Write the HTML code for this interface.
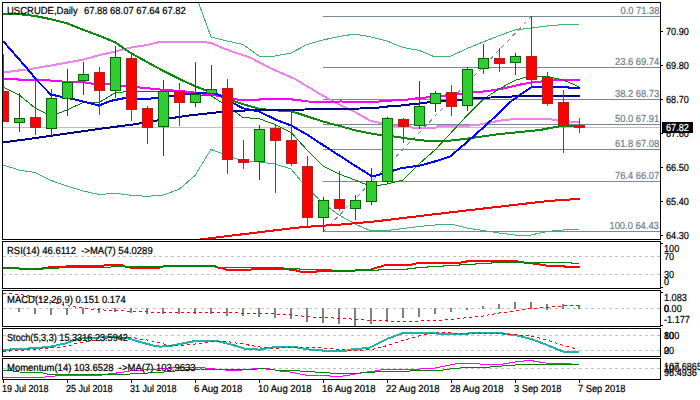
<!DOCTYPE html>
<html><head><meta charset="utf-8"><title>USCRUDE Daily</title>
<style>
html,body{margin:0;padding:0;background:#fff;}
body{width:700px;height:400px;position:relative;overflow:hidden;font-family:"Liberation Sans",sans-serif;}
.t{position:absolute;-webkit-text-stroke:0.22px currentColor;white-space:nowrap;line-height:1;font-size:10.2px;text-rendering:geometricPrecision;font-family:"Liberation Sans",sans-serif;height:auto;}
</style></head><body>
<svg width="700" height="400" viewBox="0 0 700 400" style="position:absolute;left:0;top:0" shape-rendering="crispEdges">
<defs><clipPath id="cm"><rect x="3" y="3" width="657" height="236"/></clipPath>
<clipPath id="c1"><rect x="3" y="242" width="657" height="46"/></clipPath>
<clipPath id="c2"><rect x="3" y="291" width="657" height="35"/></clipPath>
<clipPath id="c3"><rect x="3" y="329" width="657" height="27"/></clipPath>
<clipPath id="c4"><rect x="3" y="359" width="657" height="20"/></clipPath></defs>
<rect x="0" y="0" width="700" height="400" fill="#fff"/>
<g clip-path="url(#cm)">
<rect x="3" y="127" width="657" height="1" fill="#c0c0c0"/>
<rect x="323" y="16" width="337" height="1" fill="#778899"/>
<rect x="323" y="67" width="337" height="1" fill="#778899"/>
<rect x="323" y="99" width="337" height="1" fill="#778899"/>
<rect x="323" y="124" width="337" height="1" fill="#778899"/>
<rect x="323" y="149" width="337" height="1" fill="#778899"/>
<rect x="323" y="181" width="337" height="1" fill="#778899"/>
<rect x="323" y="231" width="337" height="1" fill="#778899"/>
<line x1="323.5" y1="231.5" x2="531.5" y2="16.5" stroke="#778899" stroke-width="1" stroke-dasharray="4 4"/>
<polyline points="195.0,-7.0 211.0,37.0 227.0,41.0 243.0,44.5 259.0,56.0 275.0,56.0 291.0,53.0 307.0,44.5 323.0,40.0 339.0,36.5 355.0,34.0 371.0,37.0 387.0,41.0 403.0,47.5 419.0,50.4 435.0,57.0 451.0,56.0 467.0,48.5 483.0,42.0 499.0,35.7 515.0,30.0 531.0,28.0 547.0,26.0 563.0,24.6 579.0,24.0" fill="none" stroke="#3cb371" stroke-width="1"/>
<polyline points="3.0,165.0 19.0,170.0 35.0,172.5 51.0,180.5 67.0,186.0 83.0,191.0 99.0,194.5 115.0,193.3 131.0,195.3 147.0,196.3 163.0,195.0 179.0,189.4 195.0,175.5 211.0,149.5 227.0,155.0 243.0,161.5 259.0,162.0 275.0,164.0 291.0,169.0 307.0,188.0 323.0,203.0 339.0,215.0 355.0,224.0 371.0,231.0 387.0,230.5 403.0,228.5 419.0,226.5 435.0,225.0 451.0,224.0 467.0,228.0 483.0,230.5 499.0,233.0 515.0,235.0 531.0,235.0 547.0,231.5 563.0,230.0 579.0,229.5" fill="none" stroke="#3cb371" stroke-width="1"/>
<polyline points="3.0,72.5 28.0,69.3 50.0,65.7 83.0,59.7 99.0,55.3 115.0,51.5 131.0,47.5 147.0,45.0 160.0,41.9 203.0,42.0 211.7,43.2 220.0,46.9 235.0,52.5 250.0,57.5 270.0,68.0 295.0,79.0 320.0,94.0 340.0,105.0 355.0,112.0 370.0,120.5 378.0,122.5 395.0,125.8 410.0,126.0 412.0,127.5 436.0,127.5 438.0,126.3 468.0,126.3 470.0,125.4 480.0,124.5 490.0,122.6 500.0,120.6 515.0,119.0 530.0,118.6 547.0,118.6 555.0,120.0 563.0,121.0 580.0,122.2" fill="none" stroke="#ee82ee" stroke-width="2"/>
<polyline points="3.0,79.0 18.0,79.3 20.0,80.0 50.0,80.5 62.0,81.5 85.0,82.3 87.0,83.3 110.0,84.5 121.0,85.5 140.0,87.5 160.0,89.5 185.0,91.5 211.0,94.5 232.0,98.8 238.0,99.7 259.0,99.7 261.0,98.9 291.0,98.9 293.0,99.7 300.0,100.3 308.0,101.5 330.0,102.0 340.0,101.5 378.0,101.8 381.0,100.8 403.0,100.2 411.0,99.0 420.0,98.0 435.0,96.7 450.0,95.0 470.0,92.8 488.0,91.0 500.0,89.0 510.0,87.0 520.0,84.6 530.0,82.7 540.0,81.6 553.0,80.4 565.0,79.9 580.0,79.9" fill="none" stroke="#ff00ff" stroke-width="2"/>
<polyline points="3.0,87.0 19.0,94.8 35.0,108.0 51.0,116.0 67.0,110.0 83.0,102.5 99.0,102.5 115.0,93.0 131.0,91.0 147.0,91.0 163.0,91.0 179.0,92.0 195.0,95.0 211.0,95.7 227.0,106.0 243.0,117.5 259.0,118.7 275.0,124.5 291.0,132.3 307.0,150.0 323.0,166.0 339.0,174.0 355.0,180.0 371.0,186.5 387.0,184.0 403.0,180.0 419.0,164.0 435.0,150.0 451.0,132.8 467.0,115.5 483.0,99.5 499.0,89.0 515.0,80.3 531.0,75.9 547.0,76.4 563.0,79.9 579.0,86.7" fill="none" stroke="#008000" stroke-width="1"/>
<polyline points="3.0,13.9 19.0,14.2 35.0,16.0 51.0,19.2 67.0,23.3 83.0,29.7 99.0,35.7 115.0,42.2 131.0,53.2 147.0,62.0 163.0,70.8 179.0,78.8 195.0,86.2 205.7,90.3 220.0,96.0 232.0,100.5 245.0,104.8 260.0,109.0 275.0,110.3 292.0,111.4 315.0,119.0 330.0,123.5 340.0,126.0 355.0,130.3 370.0,133.3 380.0,135.0 395.0,136.6 410.0,139.0 425.0,140.6 435.0,141.0 450.0,140.6 465.0,139.0 480.0,136.8 500.0,134.0 520.0,132.0 540.0,130.0 550.0,128.0 560.0,126.4 580.0,126.2" fill="none" stroke="#0c880c" stroke-width="2"/>
<polyline points="3.0,142.5 50.0,136.0 100.0,128.8 135.0,124.2 160.0,120.0 185.0,116.0 220.0,112.0 245.0,110.5 270.0,110.0 340.0,109.0 360.0,108.5 370.0,108.3 380.0,107.4 390.0,106.2 403.0,105.4 411.0,104.3 425.0,103.0 430.0,101.6 445.0,100.8 460.0,100.4 473.0,98.0 509.0,97.0 515.0,96.0 580.0,96.0" fill="none" stroke="#00008b" stroke-width="2"/>
<polyline points="196.0,240.0 234.0,235.3 268.6,231.1 303.0,227.0 340.0,224.6 375.0,221.4 420.0,216.0 450.0,212.4 500.0,206.6 548.0,201.0 580.0,198.8" fill="none" stroke="#ff0000" stroke-width="2"/>
<polyline points="3.0,41.0 25.0,66.0 37.5,81.0 51.0,94.6 75.0,99.5 99.0,105.6 110.0,101.0 125.0,98.0 142.0,99.0 160.0,98.0 180.0,94.5 195.0,93.5 207.0,92.6 215.0,93.6 225.0,97.0 232.0,102.5 243.0,108.3 259.0,111.5 275.0,119.3 291.0,125.5 307.0,134.5 323.0,145.0 339.0,155.3 355.0,165.7 372.0,176.3 378.0,175.0 402.0,168.0 420.0,165.6 438.0,160.5 450.0,156.6 470.0,139.5 491.0,120.5 512.0,100.5 532.0,86.7 563.0,86.7 572.0,88.0 580.0,88.0" fill="none" stroke="#0000ff" stroke-width="2"/>
<rect x="3" y="54" width="1" height="68" fill="#b22222"/>
<rect x="-2" y="91" width="11" height="31" fill="#b22222"/>
<rect x="-1" y="92" width="9" height="29" fill="#ff0000"/>
<rect x="19" y="93" width="1" height="39" fill="#006400"/>
<rect x="14" y="118" width="11" height="5" fill="#006400"/>
<rect x="15" y="119" width="9" height="3" fill="#32cd32"/>
<rect x="35" y="80" width="1" height="55" fill="#b22222"/>
<rect x="30" y="117" width="11" height="11" fill="#b22222"/>
<rect x="31" y="118" width="9" height="9" fill="#ff0000"/>
<rect x="51" y="89" width="1" height="47" fill="#006400"/>
<rect x="46" y="98" width="11" height="31" fill="#006400"/>
<rect x="47" y="99" width="9" height="29" fill="#32cd32"/>
<rect x="67" y="69" width="1" height="47" fill="#006400"/>
<rect x="62" y="82" width="11" height="17" fill="#006400"/>
<rect x="63" y="83" width="9" height="15" fill="#32cd32"/>
<rect x="83" y="62" width="1" height="33" fill="#006400"/>
<rect x="78" y="74" width="11" height="7" fill="#006400"/>
<rect x="79" y="75" width="9" height="5" fill="#32cd32"/>
<rect x="99" y="67" width="1" height="48" fill="#b22222"/>
<rect x="94" y="72" width="11" height="19" fill="#b22222"/>
<rect x="95" y="73" width="9" height="17" fill="#ff0000"/>
<rect x="115" y="46" width="1" height="52" fill="#006400"/>
<rect x="110" y="57" width="11" height="34" fill="#006400"/>
<rect x="111" y="58" width="9" height="32" fill="#32cd32"/>
<rect x="131" y="53" width="1" height="68" fill="#b22222"/>
<rect x="126" y="58" width="11" height="52" fill="#b22222"/>
<rect x="127" y="59" width="9" height="50" fill="#ff0000"/>
<rect x="147" y="106" width="1" height="38" fill="#b22222"/>
<rect x="142" y="108" width="11" height="20" fill="#b22222"/>
<rect x="143" y="109" width="9" height="18" fill="#ff0000"/>
<rect x="163" y="80" width="1" height="76" fill="#006400"/>
<rect x="158" y="91" width="11" height="36" fill="#006400"/>
<rect x="159" y="92" width="9" height="34" fill="#32cd32"/>
<rect x="179" y="83" width="1" height="43" fill="#b22222"/>
<rect x="174" y="91" width="11" height="12" fill="#b22222"/>
<rect x="175" y="92" width="9" height="10" fill="#ff0000"/>
<rect x="195" y="62" width="1" height="45" fill="#006400"/>
<rect x="190" y="94" width="11" height="9" fill="#006400"/>
<rect x="191" y="95" width="9" height="7" fill="#32cd32"/>
<rect x="211" y="65" width="1" height="31" fill="#006400"/>
<rect x="206" y="89" width="11" height="5" fill="#006400"/>
<rect x="207" y="90" width="9" height="3" fill="#32cd32"/>
<rect x="227" y="79" width="1" height="95" fill="#b22222"/>
<rect x="222" y="88" width="11" height="72" fill="#b22222"/>
<rect x="223" y="89" width="9" height="70" fill="#ff0000"/>
<rect x="243" y="140" width="1" height="29" fill="#b22222"/>
<rect x="238" y="159" width="11" height="4" fill="#b22222"/>
<rect x="239" y="160" width="9" height="2" fill="#ff0000"/>
<rect x="259" y="125" width="1" height="55" fill="#006400"/>
<rect x="254" y="129" width="11" height="33" fill="#006400"/>
<rect x="255" y="130" width="9" height="31" fill="#32cd32"/>
<rect x="275" y="124" width="1" height="69" fill="#b22222"/>
<rect x="270" y="128" width="11" height="13" fill="#b22222"/>
<rect x="271" y="129" width="9" height="11" fill="#ff0000"/>
<rect x="291" y="110" width="1" height="56" fill="#b22222"/>
<rect x="286" y="140" width="11" height="24" fill="#b22222"/>
<rect x="287" y="141" width="9" height="22" fill="#ff0000"/>
<rect x="307" y="156" width="1" height="72" fill="#b22222"/>
<rect x="302" y="166" width="11" height="52" fill="#b22222"/>
<rect x="303" y="167" width="9" height="50" fill="#ff0000"/>
<rect x="323" y="197" width="1" height="35" fill="#006400"/>
<rect x="318" y="200" width="11" height="18" fill="#006400"/>
<rect x="319" y="201" width="9" height="16" fill="#32cd32"/>
<rect x="339" y="171" width="1" height="40" fill="#b22222"/>
<rect x="334" y="199" width="11" height="10" fill="#b22222"/>
<rect x="335" y="200" width="9" height="8" fill="#ff0000"/>
<rect x="355" y="195" width="1" height="25" fill="#006400"/>
<rect x="350" y="200" width="11" height="9" fill="#006400"/>
<rect x="351" y="201" width="9" height="7" fill="#32cd32"/>
<rect x="371" y="168" width="1" height="37" fill="#006400"/>
<rect x="366" y="181" width="11" height="21" fill="#006400"/>
<rect x="367" y="182" width="9" height="19" fill="#32cd32"/>
<rect x="387" y="117" width="1" height="67" fill="#006400"/>
<rect x="382" y="118" width="11" height="64" fill="#006400"/>
<rect x="383" y="119" width="9" height="62" fill="#32cd32"/>
<rect x="403" y="118" width="1" height="25" fill="#b22222"/>
<rect x="398" y="119" width="11" height="8" fill="#b22222"/>
<rect x="399" y="120" width="9" height="6" fill="#ff0000"/>
<rect x="419" y="81" width="1" height="48" fill="#006400"/>
<rect x="414" y="106" width="11" height="20" fill="#006400"/>
<rect x="415" y="107" width="9" height="18" fill="#32cd32"/>
<rect x="435" y="91" width="1" height="21" fill="#006400"/>
<rect x="430" y="93" width="11" height="11" fill="#006400"/>
<rect x="431" y="94" width="9" height="9" fill="#32cd32"/>
<rect x="451" y="85" width="1" height="31" fill="#b22222"/>
<rect x="446" y="92" width="11" height="15" fill="#b22222"/>
<rect x="447" y="93" width="9" height="13" fill="#ff0000"/>
<rect x="467" y="67" width="1" height="44" fill="#006400"/>
<rect x="462" y="69" width="11" height="37" fill="#006400"/>
<rect x="463" y="70" width="9" height="35" fill="#32cd32"/>
<rect x="483" y="44" width="1" height="30" fill="#006400"/>
<rect x="478" y="58" width="11" height="11" fill="#006400"/>
<rect x="479" y="59" width="9" height="9" fill="#32cd32"/>
<rect x="499" y="48" width="1" height="24" fill="#b22222"/>
<rect x="494" y="58" width="11" height="6" fill="#b22222"/>
<rect x="495" y="59" width="9" height="4" fill="#ff0000"/>
<rect x="515" y="53" width="1" height="22" fill="#006400"/>
<rect x="510" y="56" width="11" height="7" fill="#006400"/>
<rect x="511" y="57" width="9" height="5" fill="#32cd32"/>
<rect x="531" y="16" width="1" height="72" fill="#b22222"/>
<rect x="526" y="56" width="11" height="24" fill="#b22222"/>
<rect x="527" y="57" width="9" height="22" fill="#ff0000"/>
<rect x="547" y="72" width="1" height="34" fill="#b22222"/>
<rect x="542" y="77" width="11" height="27" fill="#b22222"/>
<rect x="543" y="78" width="9" height="25" fill="#ff0000"/>
<rect x="563" y="90" width="1" height="63" fill="#b22222"/>
<rect x="558" y="102" width="11" height="24" fill="#b22222"/>
<rect x="559" y="103" width="9" height="22" fill="#ff0000"/>
<rect x="579" y="118" width="1" height="15" fill="#b22222"/>
<rect x="574" y="125" width="11" height="3" fill="#b22222"/>
<rect x="575" y="126" width="9" height="1" fill="#ff0000"/>
</g>
<g clip-path="url(#c1)">
<line x1="3" y1="256.5" x2="660" y2="256.5" stroke="#c0c0c0" stroke-width="1" stroke-dasharray="3 3"/>
<line x1="3" y1="274.5" x2="660" y2="274.5" stroke="#c0c0c0" stroke-width="1" stroke-dasharray="3 3"/>
<polyline points="3.0,268.0 17.0,267.5 20.0,269.0 42.0,269.0 44.0,267.7 60.0,267.0 68.0,266.3 100.0,265.8 107.0,265.3 108.0,264.5 121.0,264.5 123.0,266.0 129.0,267.3 133.0,268.0 155.0,268.0 160.0,267.5 165.0,266.0 214.0,266.0 218.0,267.5 224.0,268.8 228.0,270.0 249.0,270.0 255.0,268.6 275.0,268.6 283.0,269.2 291.0,269.6 297.0,270.6 302.0,272.0 315.0,272.0 318.0,271.0 350.0,271.0 355.0,270.5 371.0,269.7 374.0,268.5 377.0,267.5 381.0,266.5 385.0,265.3 411.0,264.9 415.0,263.7 420.0,263.0 459.0,262.9 463.0,262.0 468.0,261.3 470.0,260.8 515.0,260.8 519.0,261.7 527.0,262.9 535.0,263.7 543.0,264.9 549.0,266.0 563.0,266.2 566.0,266.8 580.0,266.8" fill="none" stroke="#ff0000" stroke-width="2"/>
<polyline points="3.0,268.5 43.0,268.5 75.0,267.5 107.0,267.5 115.0,266.5 215.0,266.5 220.0,267.5 283.0,267.5 284.0,268.5 299.0,268.5 300.0,269.5 331.0,269.5 332.0,270.5 378.0,270.5 379.0,269.5 407.0,269.5 408.0,268.5 415.0,268.5 416.0,267.5 427.0,267.5 428.0,266.5 443.0,266.5 444.0,265.7 459.0,265.7 460.0,264.6 475.0,264.6 476.0,263.5 491.0,263.5 492.0,262.5 571.0,262.5 572.0,263.5 579.0,263.5" fill="none" stroke="#008000" stroke-width="1"/>
</g>
<g clip-path="url(#c2)">
<line x1="3" y1="308.5" x2="660" y2="308.5" stroke="#c0c0c0" stroke-width="1" stroke-dasharray="3 3"/>
<rect x="18" y="308" width="2" height="4" fill="#808080"/>
<rect x="34" y="308" width="2" height="6" fill="#808080"/>
<rect x="50" y="308" width="2" height="7" fill="#808080"/>
<rect x="66" y="308" width="2" height="7" fill="#808080"/>
<rect x="82" y="308" width="2" height="6" fill="#808080"/>
<rect x="98" y="308" width="2" height="5" fill="#808080"/>
<rect x="114" y="308" width="2" height="4" fill="#808080"/>
<rect x="130" y="308" width="2" height="5" fill="#808080"/>
<rect x="146" y="308" width="2" height="6" fill="#808080"/>
<rect x="162" y="308" width="2" height="6" fill="#808080"/>
<rect x="178" y="308" width="2" height="6" fill="#808080"/>
<rect x="194" y="308" width="2" height="6" fill="#808080"/>
<rect x="210" y="308" width="2" height="6" fill="#808080"/>
<rect x="226" y="308" width="2" height="8" fill="#808080"/>
<rect x="242" y="308" width="2" height="8" fill="#808080"/>
<rect x="258" y="308" width="2" height="9" fill="#808080"/>
<rect x="274" y="308" width="2" height="10" fill="#808080"/>
<rect x="290" y="308" width="2" height="11" fill="#808080"/>
<rect x="306" y="308" width="2" height="14" fill="#808080"/>
<rect x="322" y="308" width="2" height="15" fill="#808080"/>
<rect x="338" y="308" width="2" height="16" fill="#808080"/>
<rect x="354" y="308" width="2" height="18" fill="#808080"/>
<rect x="370" y="308" width="2" height="16" fill="#808080"/>
<rect x="386" y="308" width="2" height="14" fill="#808080"/>
<rect x="402" y="308" width="2" height="10" fill="#808080"/>
<rect x="418" y="308" width="2" height="9" fill="#808080"/>
<rect x="434" y="308" width="2" height="6" fill="#808080"/>
<rect x="450" y="308" width="2" height="4" fill="#808080"/>
<rect x="466" y="308" width="2" height="2" fill="#808080"/>
<rect x="482" y="306" width="2" height="3" fill="#808080"/>
<rect x="498" y="304" width="2" height="5" fill="#808080"/>
<rect x="514" y="302" width="2" height="7" fill="#808080"/>
<rect x="530" y="302" width="2" height="7" fill="#808080"/>
<rect x="546" y="304" width="2" height="6" fill="#808080"/>
<rect x="562" y="304" width="2" height="5" fill="#808080"/>
<rect x="578" y="305" width="2" height="4" fill="#808080"/>
<polyline points="3.0,293.0 19.0,294.3 35.0,297.0 51.0,301.0 60.0,304.3 67.0,305.7 75.0,307.0 83.0,308.2 91.0,309.4 99.0,309.8 115.0,310.5 150.0,312.0 220.0,312.0 240.0,313.0 290.0,314.4 310.0,317.0 340.0,318.3 370.0,320.3 400.0,321.4 435.0,320.7 451.0,319.6 467.0,317.7 483.0,316.0 499.0,313.0 515.0,311.0 531.0,308.4 547.0,307.3 563.0,305.8 579.0,305.5" fill="none" stroke="#ff0000" stroke-width="1" stroke-dasharray="3 3"/>
</g>
<g clip-path="url(#c3)">
<line x1="3" y1="335.5" x2="660" y2="335.5" stroke="#c0c0c0" stroke-width="1" stroke-dasharray="3 3"/>
<line x1="3" y1="350.5" x2="660" y2="350.5" stroke="#c0c0c0" stroke-width="1" stroke-dasharray="3 3"/>
<polyline points="3.0,350.0 19.0,348.8 35.0,348.3 51.0,346.6 67.0,343.0 75.0,339.7 83.0,338.3 99.0,337.5 115.0,337.0 128.0,338.4 140.0,342.0 155.0,346.0 160.0,346.6 170.0,346.0 180.0,344.0 195.0,341.0 215.0,340.6 225.0,343.0 240.0,347.0 245.0,349.0 260.0,349.6 268.0,348.0 276.0,347.0 295.0,347.0 300.0,348.0 310.0,349.6 320.0,350.0 325.0,351.0 345.0,351.0 350.0,349.6 360.0,348.8 370.0,347.6 375.0,345.0 387.0,339.0 403.0,333.0 435.0,333.0 440.0,334.0 467.0,334.0 470.0,333.0 500.0,333.0 505.0,334.0 515.0,335.0 531.0,339.0 547.0,345.0 563.0,351.6 579.0,351.6" fill="none" stroke="#20b2aa" stroke-width="2"/>
<polyline points="3.0,351.4 35.0,349.5 51.0,348.0 67.0,346.2 75.0,343.7 83.0,342.6 91.0,341.0 99.0,340.2 115.0,337.0 130.0,337.0 140.0,339.0 150.0,340.4 160.0,343.0 170.0,345.4 180.0,345.4 195.0,344.0 210.0,342.0 225.0,341.0 230.0,342.0 245.0,344.4 260.0,347.0 275.0,348.4 290.0,347.6 310.0,347.0 325.0,348.4 340.0,349.6 355.0,350.4 372.0,349.6 387.0,345.6 403.0,340.4 419.0,336.0 430.0,333.4 445.0,332.6 460.0,333.4 480.0,333.0 505.0,334.0 520.0,335.0 531.0,336.0 547.0,340.0 563.0,345.4 575.0,348.4" fill="none" stroke="#ff0000" stroke-width="1" stroke-dasharray="3 3"/>
</g>
<g clip-path="url(#c4)">
<line x1="3" y1="368.5" x2="660" y2="368.5" stroke="#c0c0c0" stroke-width="1" stroke-dasharray="3 3"/>
<polyline points="3.0,377.4 30.0,377.8 45.0,377.0 55.0,376.0 62.0,375.4 100.0,375.4 108.0,374.0 120.0,372.6 130.0,371.0 150.0,369.6 165.0,368.4 180.0,367.4 195.0,367.0 205.0,368.0 215.0,369.0 225.0,370.0 240.0,370.4 245.0,369.6 260.0,368.4 270.0,369.0 280.0,371.0 290.0,372.0 300.0,374.0 307.0,375.4 320.0,375.0 330.0,376.0 340.0,376.4 350.0,375.0 355.0,374.0 362.0,372.6 375.0,371.0 385.0,369.0 420.0,369.0 435.0,368.0 445.0,366.0 455.0,364.0 465.0,363.0 475.0,363.0 480.0,364.0 503.0,364.0 515.0,362.0 530.0,360.4 545.0,363.0 571.0,363.4" fill="none" stroke="#ff00ff" stroke-width="1"/>
<polyline points="3.0,370.2 8.0,370.2 19.0,372.0 40.0,372.3 48.0,374.3 100.0,375.0 120.0,374.6 140.0,373.4 160.0,372.4 175.0,371.0 190.0,369.6 200.0,369.0 240.0,369.5 250.0,369.6 262.0,368.6 275.0,370.0 290.0,370.4 300.0,371.0 315.0,372.0 330.0,373.0 345.0,373.6 355.0,373.4 375.0,372.0 395.0,371.6 410.0,371.0 440.0,370.4 450.0,369.0 460.0,368.0 470.0,367.0 490.0,367.0 507.0,365.6 523.0,364.4 579.0,364.4" fill="none" stroke="#008000" stroke-width="1"/>
</g>
<rect x="2.5" y="2.5" width="658" height="237" fill="none" stroke="#000" stroke-width="1"/>
<rect x="2.5" y="241.5" width="658" height="47" fill="none" stroke="#000" stroke-width="1"/>
<rect x="2.5" y="290.5" width="658" height="36" fill="none" stroke="#000" stroke-width="1"/>
<rect x="2.5" y="328.5" width="658" height="28" fill="none" stroke="#000" stroke-width="1"/>
<rect x="2.5" y="358.5" width="658" height="21" fill="none" stroke="#000" stroke-width="1"/>
<rect x="661" y="31" width="2" height="1" fill="#000"/>
<rect x="661" y="65" width="2" height="1" fill="#000"/>
<rect x="661" y="99" width="2" height="1" fill="#000"/>
<rect x="661" y="133" width="2" height="1" fill="#000"/>
<rect x="661" y="167" width="2" height="1" fill="#000"/>
<rect x="661" y="201" width="2" height="1" fill="#000"/>
<rect x="661" y="235" width="2" height="1" fill="#000"/>
<rect x="661" y="243" width="2" height="1" fill="#000"/>
<rect x="661" y="287" width="2" height="1" fill="#000"/>
<rect x="661" y="292" width="2" height="1" fill="#000"/>
<rect x="661" y="325" width="2" height="1" fill="#000"/>
<rect x="3" y="380" width="1" height="3" fill="#000"/>
<rect x="67" y="380" width="1" height="3" fill="#000"/>
<rect x="131" y="380" width="1" height="3" fill="#000"/>
<rect x="195" y="380" width="1" height="3" fill="#000"/>
<rect x="259" y="380" width="1" height="3" fill="#000"/>
<rect x="323" y="380" width="1" height="3" fill="#000"/>
<rect x="387" y="380" width="1" height="3" fill="#000"/>
<rect x="451" y="380" width="1" height="3" fill="#000"/>
<rect x="515" y="380" width="1" height="3" fill="#000"/>
<rect x="579" y="380" width="1" height="3" fill="#000"/>
<rect x="662" y="122" width="31" height="11" fill="#000"/>
</svg>
<div class="t" style="left:7px;top:7px;color:#000;transform:scaleX(0.9314);transform-origin:0 0;">USCRUDE,Daily</div>
<div class="t" style="left:83.6px;top:7px;color:#000;transform:scaleX(0.9216);transform-origin:0 0;">67.88 68.07 67.64 67.82</div>
<div class="t" style="left:7px;top:247px;color:#000;transform:scaleX(0.9314);transform-origin:0 0;">RSI(14) 46.6112&nbsp; -&gt;MA(7) 54.0289</div>
<div class="t" style="left:7px;top:296px;color:#000;transform:scaleX(0.9314);transform-origin:0 0;">MACD(12,26,9) 0.151 0.174</div>
<div class="t" style="left:7px;top:334px;color:#000;transform:scaleX(0.8971);transform-origin:0 0;">Stoch(5,3,3) 15.3316 23.5942</div>
<div class="t" style="left:7px;top:364px;color:#000;transform:scaleX(0.9314);transform-origin:0 0;">Momentum(14) 103.6528&nbsp; -&gt;MA(7) 103.9633</div>
<div class="t" style="right:41px;top:7px;color:#708090;text-align:right;transform:scaleX(0.9176);transform-origin:100% 0;">0.0 71.38</div>
<div class="t" style="right:41px;top:58px;color:#708090;text-align:right;transform:scaleX(0.9176);transform-origin:100% 0;">23.6 69.74</div>
<div class="t" style="right:41px;top:90px;color:#708090;text-align:right;transform:scaleX(0.9176);transform-origin:100% 0;">38.2 68.73</div>
<div class="t" style="right:41px;top:115px;color:#708090;text-align:right;transform:scaleX(0.9176);transform-origin:100% 0;">50.0 67.91</div>
<div class="t" style="right:41px;top:140px;color:#708090;text-align:right;transform:scaleX(0.9176);transform-origin:100% 0;">61.8 67.08</div>
<div class="t" style="right:41px;top:172px;color:#708090;text-align:right;transform:scaleX(0.9176);transform-origin:100% 0;">76.4 66.07</div>
<div class="t" style="right:41px;top:222px;color:#708090;text-align:right;transform:scaleX(0.9176);transform-origin:100% 0;">100.0 64.43</div>
<div class="t" style="left:666px;top:28px;color:#000;transform:scaleX(0.8941);transform-origin:0 0;">70.90</div>
<div class="t" style="left:666px;top:62px;color:#000;transform:scaleX(0.8941);transform-origin:0 0;">69.80</div>
<div class="t" style="left:666px;top:96px;color:#000;transform:scaleX(0.8941);transform-origin:0 0;">68.70</div>
<div class="t" style="left:666px;top:130px;color:#000;transform:scaleX(0.8941);transform-origin:0 0;">67.60</div>
<div class="t" style="left:666px;top:164px;color:#000;transform:scaleX(0.8941);transform-origin:0 0;">66.50</div>
<div class="t" style="left:666px;top:198px;color:#000;transform:scaleX(0.8941);transform-origin:0 0;">65.40</div>
<div class="t" style="left:666px;top:232px;color:#000;transform:scaleX(0.8941);transform-origin:0 0;">64.30</div>
<div class="t" style="left:666px;top:124px;color:#fff;transform:scaleX(0.8941);transform-origin:0 0;">67.82</div>
<div class="t" style="left:664px;top:245px;color:#000;transform:scaleX(0.8941);transform-origin:0 0;">100</div>
<div class="t" style="left:664px;top:253px;color:#000;transform:scaleX(0.8941);transform-origin:0 0;">70</div>
<div class="t" style="left:664px;top:271px;color:#000;transform:scaleX(0.8941);transform-origin:0 0;">30</div>
<div class="t" style="left:664px;top:278px;color:#000;transform:scaleX(0.8941);transform-origin:0 0;">0</div>
<div class="t" style="left:664px;top:294px;color:#000;transform:scaleX(0.8941);transform-origin:0 0;">1.083</div>
<div class="t" style="left:664px;top:305px;color:#000;transform:scaleX(0.8941);transform-origin:0 0;">0.00</div>
<div class="t" style="left:664px;top:305px;color:#000;transform:scaleX(0.8941);transform-origin:0 0;">0</div>
<div class="t" style="left:664px;top:316px;color:#000;transform:scaleX(0.8941);transform-origin:0 0;">-1.177</div>
<div class="t" style="left:664px;top:332px;color:#000;transform:scaleX(0.8941);transform-origin:0 0;">80</div>
<div class="t" style="left:664px;top:332px;color:#000;transform:scaleX(0.8941);transform-origin:0 0;">100</div>
<div class="t" style="left:664px;top:347px;color:#000;transform:scaleX(0.8941);transform-origin:0 0;">20</div>
<div class="t" style="left:664px;top:347px;color:#000;transform:scaleX(0.8941);transform-origin:0 0;">0</div>
<div class="t" style="left:664px;top:363px;color:#000;transform:scaleX(0.8941);transform-origin:0 0;">107.6865</div>
<div class="t" style="left:664px;top:365px;color:#000;transform:scaleX(0.8941);transform-origin:0 0;">100</div>
<div class="t" style="left:664px;top:369px;color:#000;transform:scaleX(0.8941);transform-origin:0 0;">96.4936</div>
<div class="t" style="left:2px;top:385px;color:#000;transform:scaleX(0.8824);transform-origin:0 0;">19 Jul 2018</div>
<div class="t" style="left:66px;top:385px;color:#000;transform:scaleX(0.8824);transform-origin:0 0;">25 Jul 2018</div>
<div class="t" style="left:130px;top:385px;color:#000;transform:scaleX(0.8824);transform-origin:0 0;">31 Jul 2018</div>
<div class="t" style="left:194px;top:385px;color:#000;transform:scaleX(0.9363);transform-origin:0 0;">6 Aug 2018</div>
<div class="t" style="left:258px;top:385px;color:#000;transform:scaleX(0.9363);transform-origin:0 0;">10 Aug 2018</div>
<div class="t" style="left:322px;top:385px;color:#000;transform:scaleX(0.9363);transform-origin:0 0;">16 Aug 2018</div>
<div class="t" style="left:386px;top:385px;color:#000;transform:scaleX(0.9363);transform-origin:0 0;">22 Aug 2018</div>
<div class="t" style="left:450px;top:385px;color:#000;transform:scaleX(0.9363);transform-origin:0 0;">28 Aug 2018</div>
<div class="t" style="left:514px;top:385px;color:#000;transform:scaleX(0.9118);transform-origin:0 0;">3 Sep 2018</div>
<div class="t" style="left:578px;top:385px;color:#000;transform:scaleX(0.9118);transform-origin:0 0;">7 Sep 2018</div>
</body></html>
